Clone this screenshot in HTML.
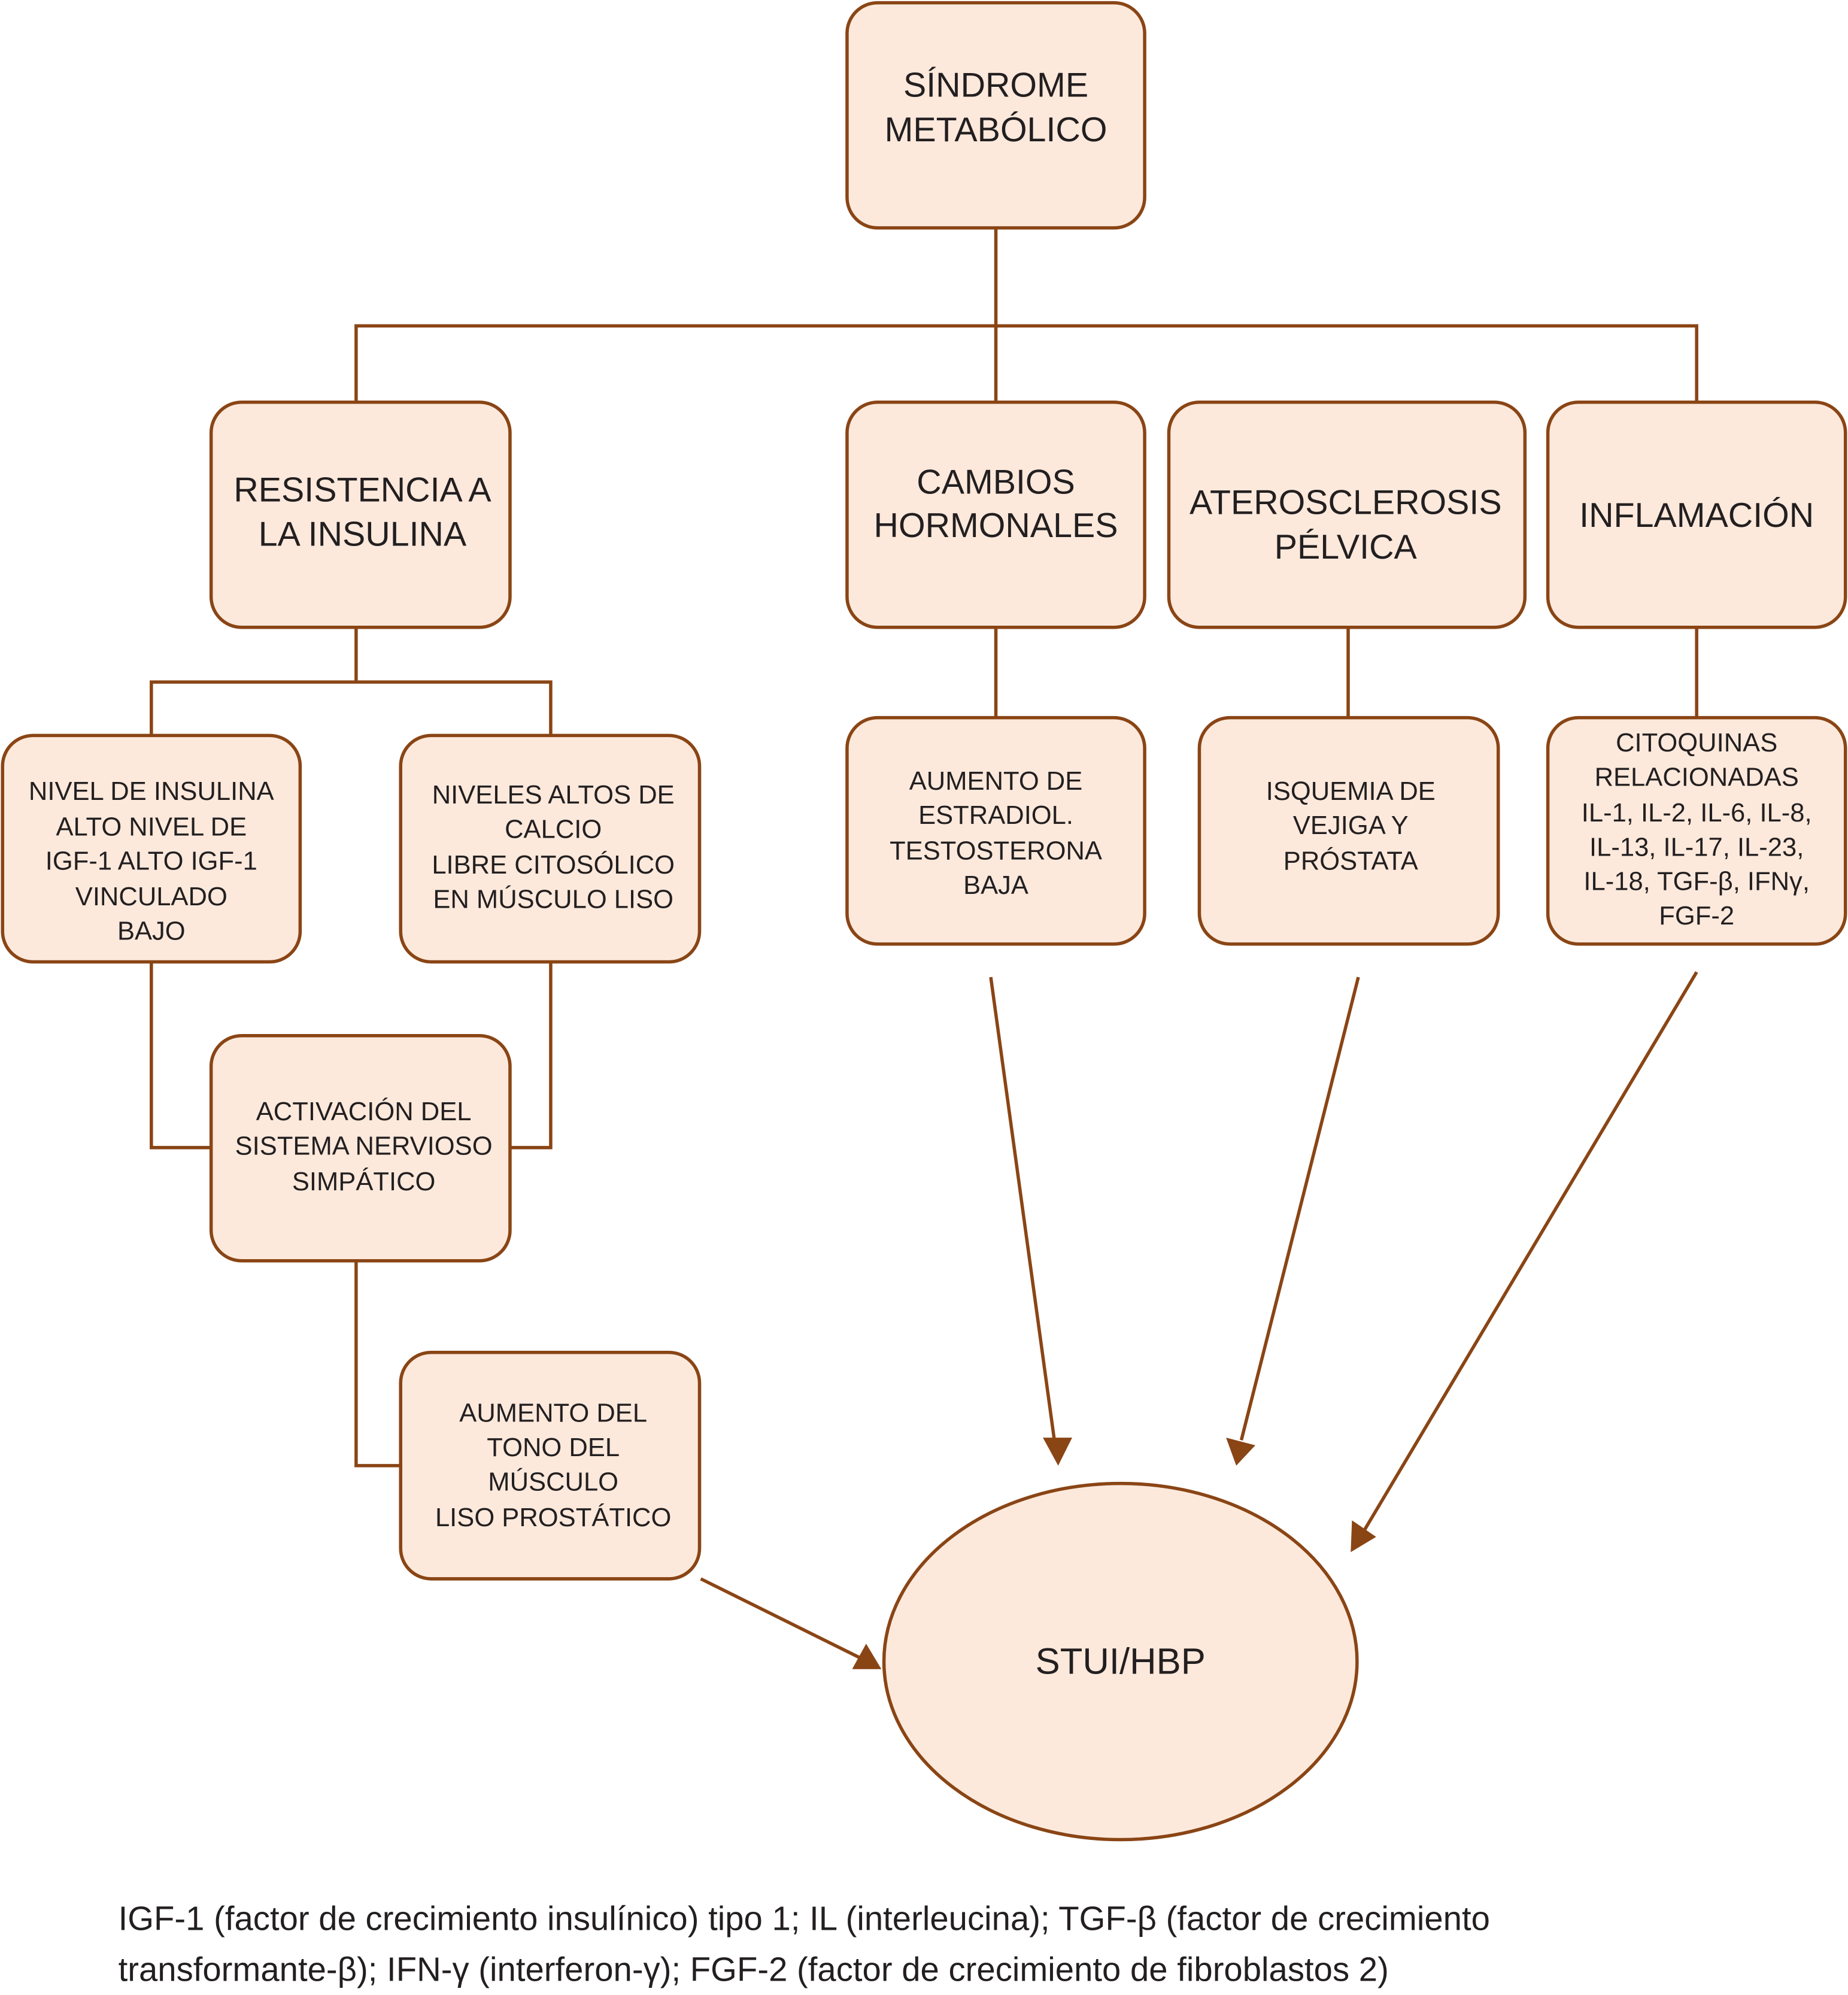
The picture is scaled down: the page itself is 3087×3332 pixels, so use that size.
<!DOCTYPE html>
<html><head><meta charset="utf-8"><style>html,body{margin:0;padding:0;background:#fff}svg{display:block}</style></head><body>
<svg width="3087" height="3332" viewBox="0 0 1453 1568" xmlns="http://www.w3.org/2000/svg" font-family="Liberation Sans, Arial, sans-serif" fill="#231f20">
<defs><marker id="a" markerWidth="10" markerHeight="10" refX="9" refY="5" orient="auto" markerUnits="userSpaceOnUse"><path d="M0,0 L0,0" /></marker></defs>
<g stroke="#8a4515" stroke-width="2.6" fill="none">
<path d="M783,179V256M280,316V256H1334V316M783,256V316"/>
<path d="M280,493V536M119,578V536H433V578"/>
<path d="M783,493V564M1060,493V564M1334,493V564"/>
<path d="M119,756V902H166M433,756V902H401"/>
<path d="M280,991V1152H315"/>
<path d="M779,768L829,1132M1068,768L976,1132M1334,764L1072,1204M551,1241L676,1303"/>
</g>
<g fill="#8a4515">
<polygon points="832,1152 820,1130 843,1130"/>
<polygon points="972,1152 964,1130 987,1136"/>
<polygon points="1062,1220 1063,1195 1082,1208"/>
<polygon points="693,1312 670,1312 681,1292"/>
</g>
<g fill="#fce9dc" stroke="#8a4515" stroke-width="2.6">
<rect x="666" y="2" width="234" height="177" rx="24"/>
<rect x="166" y="316" width="235" height="177" rx="24"/>
<rect x="666" y="316" width="234" height="177" rx="24"/>
<rect x="919" y="316" width="280" height="177" rx="24"/>
<rect x="1217" y="316" width="234" height="177" rx="24"/>
<rect x="2" y="578" width="234" height="178" rx="24"/>
<rect x="315" y="578" width="235" height="178" rx="24"/>
<rect x="666" y="564" width="234" height="178" rx="24"/>
<rect x="943" y="564" width="235" height="178" rx="24"/>
<rect x="1217" y="564" width="234" height="178" rx="24"/>
<rect x="166" y="814" width="235" height="177" rx="24"/>
<rect x="315" y="1063" width="235" height="178" rx="24"/>
<ellipse cx="881" cy="1306" rx="186" ry="140"/>
</g>
<g text-anchor="middle" dominant-baseline="central" font-size="27">
<text x="783" y="67">SÍNDROME</text><text x="783" y="102">METABÓLICO</text>
<text x="285" y="385">RESISTENCIA A</text><text x="285" y="420">LA INSULINA</text>
<text x="783" y="379">CAMBIOS</text><text x="783" y="413">HORMONALES</text>
<text x="1058" y="395">ATEROSCLEROSIS</text><text x="1058" y="430">PÉLVICA</text>
<text x="1334" y="405">INFLAMACIÓN</text>
<text x="881" y="1306" font-size="29">STUI/HBP</text>
</g>
<g text-anchor="middle" dominant-baseline="central" font-size="20.5">
<text x="119" y="622">NIVEL DE INSULINA</text><text x="119" y="650">ALTO NIVEL DE</text><text x="119" y="677">IGF-1 ALTO IGF-1</text><text x="119" y="705">VINCULADO</text><text x="119" y="732">BAJO</text>
<text x="435" y="625">NIVELES ALTOS DE</text><text x="435" y="652">CALCIO</text><text x="435" y="680">LIBRE CITOSÓLICO</text><text x="435" y="707">EN MÚSCULO LISO</text>
<text x="783" y="614">AUMENTO DE</text><text x="783" y="641">ESTRADIOL.</text><text x="783" y="669">TESTOSTERONA</text><text x="783" y="696">BAJA</text>
<text x="1062" y="622">ISQUEMIA DE</text><text x="1062" y="649">VEJIGA Y</text><text x="1062" y="677">PRÓSTATA</text>
<text x="1334" y="584">CITOQUINAS</text><text x="1334" y="611">RELACIONADAS</text><text x="1334" y="639">IL-1, IL-2, IL-6, IL-8,</text><text x="1334" y="666">IL-13, IL-17, IL-23,</text><text x="1334" y="693">IL-18, TGF-β, IFNγ,</text><text x="1334" y="720">FGF-2</text>
<text x="286" y="874">ACTIVACIÓN DEL</text><text x="286" y="901">SISTEMA NERVIOSO</text><text x="286" y="929">SIMPÁTICO</text>
<text x="435" y="1111">AUMENTO DEL</text><text x="435" y="1138">TONO DEL</text><text x="435" y="1165">MÚSCULO</text><text x="435" y="1193">LISO PROSTÁTICO</text>
</g>
<g font-size="26.5" dominant-baseline="central">
<text x="93" y="1508">IGF-1 (factor de crecimiento insulínico) tipo 1; IL (interleucina); TGF-β (factor de crecimiento</text>
<text x="93" y="1548">transformante-β); IFN-γ (interferon-γ); FGF-2 (factor de crecimiento de fibroblastos 2)</text>
</g>
</svg>
</body></html>
